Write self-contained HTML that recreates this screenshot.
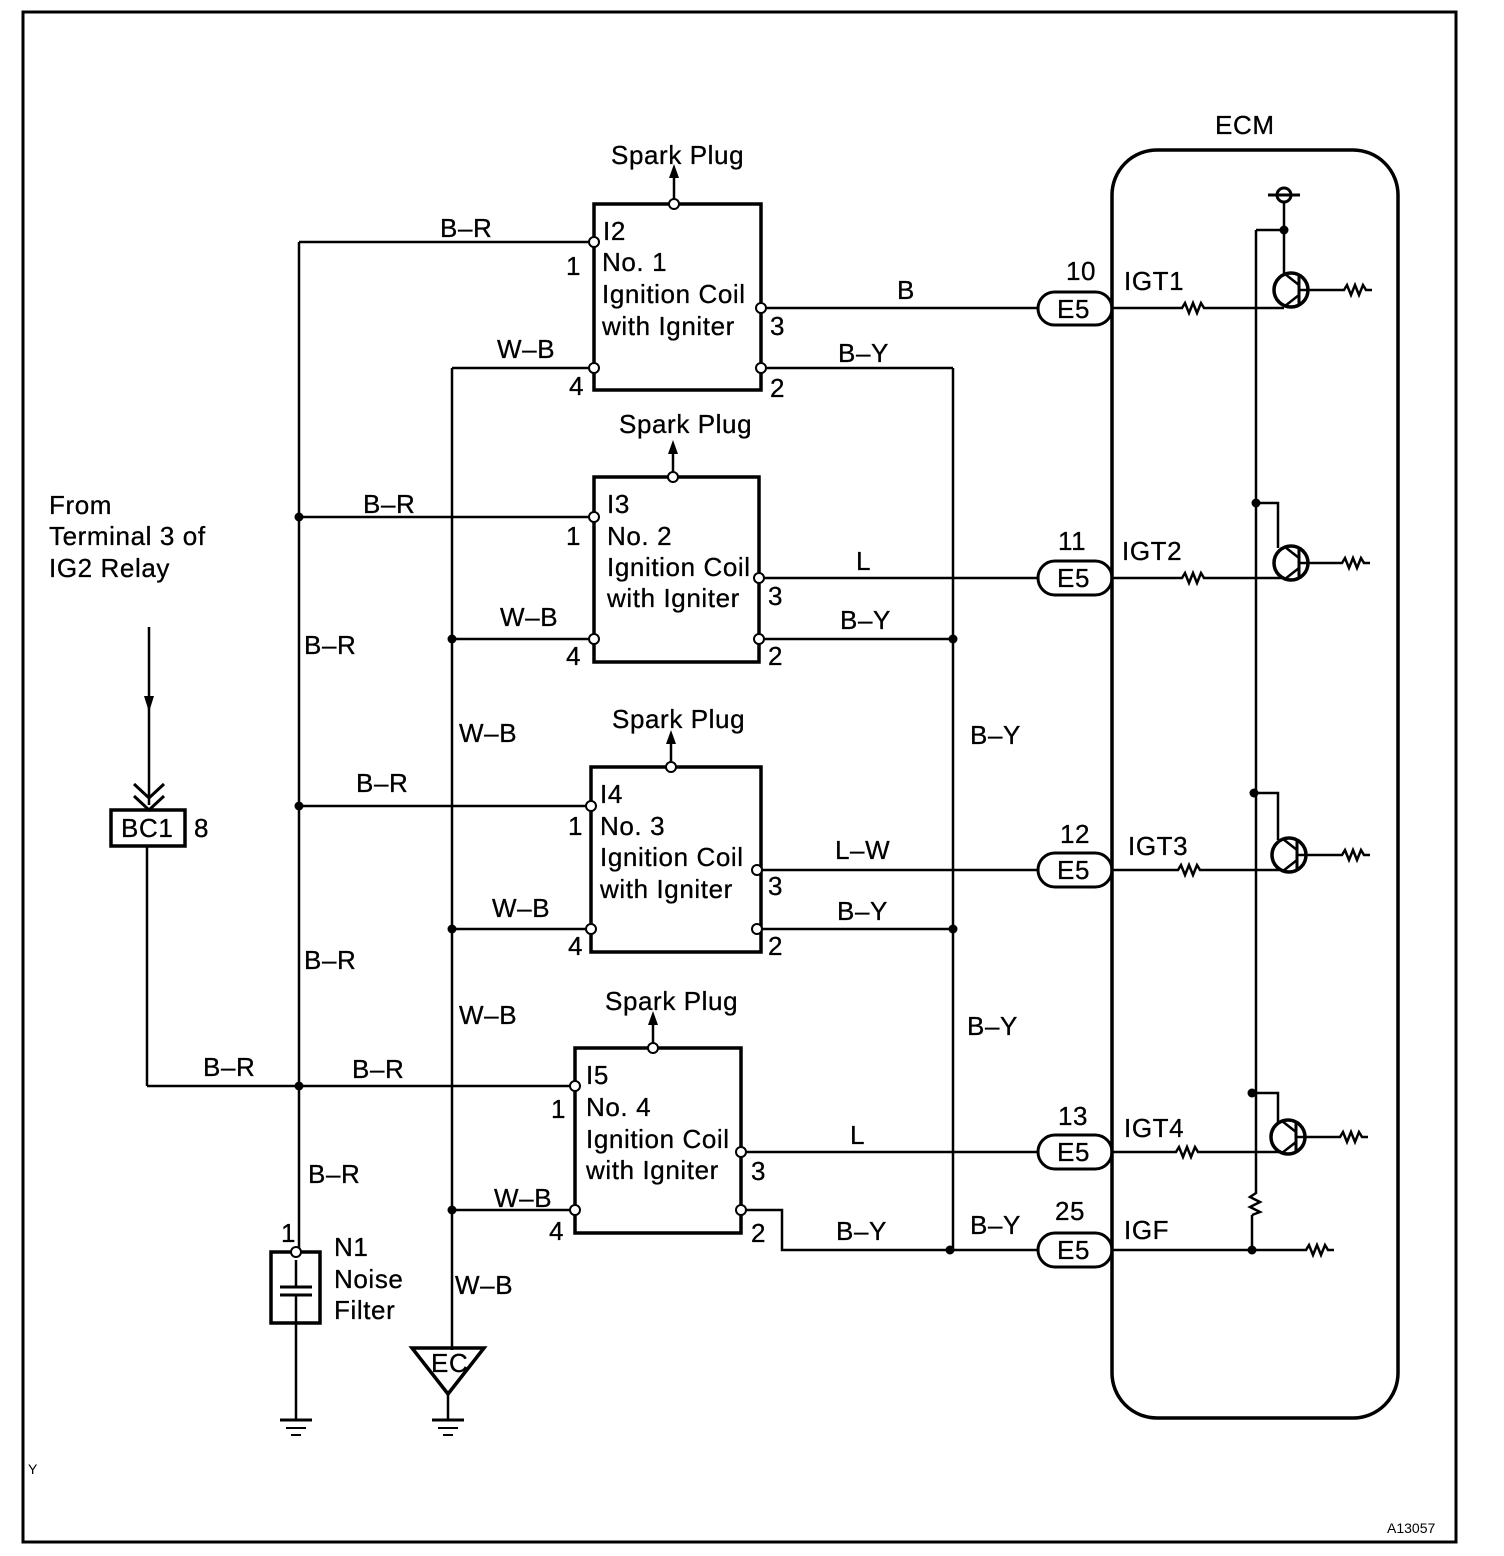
<!DOCTYPE html>
<html><head><meta charset="utf-8"><style>
html,body{margin:0;padding:0;background:#fff}
svg{display:block}
text{font-family:"Liberation Sans",Arial,sans-serif;font-size:26px;letter-spacing:0.6px;fill:#000;stroke:#000;stroke-width:0.3px}
</style></head><body>
<svg width="1504" height="1556" viewBox="0 0 1504 1556" xmlns="http://www.w3.org/2000/svg">
<defs>
<g id="gnd"><line x1="-16" y1="0" x2="16" y2="0" stroke="#000" stroke-width="3"/><line x1="-10" y1="8" x2="10" y2="8" stroke="#000" stroke-width="2"/><line x1="-5" y1="15" x2="5" y2="15" stroke="#000" stroke-width="2"/></g>
<g id="res"><polyline points="0,0 6,0 9,-5 13,5 17,-5 21,5 25,-5 28,0 34,0" fill="none" stroke="#000" stroke-width="2.5"/></g>
<g id="tr"><circle cx="0" cy="0" r="17" fill="none" stroke="#000" stroke-width="3.5"/><line x1="8" y1="-14" x2="8" y2="14" stroke="#000" stroke-width="3"/><line x1="8" y1="-5" x2="-6" y2="-16" stroke="#000" stroke-width="2.5"/><line x1="8" y1="5" x2="-6" y2="16" stroke="#000" stroke-width="2.5"/><line x1="8" y1="0" x2="20" y2="0" stroke="#000" stroke-width="2.5"/></g>
</defs>
<rect x="23" y="12" width="1433" height="1530" fill="none" stroke="#000" stroke-width="3"/>

<g stroke="#000" stroke-width="2.5" fill="none">
<line x1="299" y1="242" x2="299" y2="1252"/>
<line x1="299" y1="242" x2="594" y2="242"/>
<line x1="299" y1="517" x2="594" y2="517"/>
<line x1="299" y1="806" x2="591" y2="806"/>
<line x1="147" y1="1086" x2="575" y2="1086"/>
<line x1="147" y1="846" x2="147" y2="1086"/>
<line x1="452" y1="368" x2="452" y2="1350"/>
<line x1="452" y1="368" x2="594" y2="368"/>
<line x1="452" y1="639" x2="594" y2="639"/>
<line x1="452" y1="929" x2="591" y2="929"/>
<line x1="452" y1="1210" x2="575" y2="1210"/>
<line x1="953" y1="368" x2="953" y2="1250"/>
<line x1="761" y1="368" x2="953" y2="368"/>
<line x1="759" y1="639" x2="953" y2="639"/>
<line x1="757" y1="929" x2="953" y2="929"/>
<polyline points="741,1210 782,1210 782,1250 1038,1250"/>
<line x1="761" y1="308" x2="1038" y2="308"/>
<line x1="759" y1="578" x2="1038" y2="578"/>
<line x1="757" y1="870" x2="1038" y2="870"/>
<line x1="741" y1="1152" x2="1038" y2="1152"/>
<line x1="674" y1="204" x2="674" y2="172"/>
<line x1="673" y1="477" x2="673" y2="447"/>
<line x1="671" y1="767" x2="671" y2="737"/>
<line x1="653" y1="1048" x2="653" y2="1018"/>
<line x1="149" y1="627" x2="149" y2="805"/>
<line x1="296" y1="1323" x2="296" y2="1420"/>
<line x1="296" y1="1260" x2="296" y2="1287"/>
<line x1="296" y1="1295" x2="296" y2="1323"/>
<line x1="448" y1="1394" x2="448" y2="1420"/>
</g>
<g fill="#000">
<polygon points="674,164 669,178 679,178"/>
<polygon points="673,440 668,454 678,454"/>
<polygon points="671,730 666,744 676,744"/>
<polygon points="653,1011 648,1025 658,1025"/>
<polygon points="149,712 144,696 154,696"/>
<circle cx="299" cy="517" r="4.5"/><circle cx="299" cy="806" r="4.5"/><circle cx="299" cy="1086" r="4.5"/>
<circle cx="452" cy="639" r="4.5"/><circle cx="452" cy="929" r="4.5"/><circle cx="452" cy="1210" r="4.5"/>
<circle cx="953" cy="639" r="4.5"/><circle cx="953" cy="929" r="4.5"/><circle cx="950" cy="1250" r="4.5"/>
</g>
<polyline points="134,784 149,798 164,784" fill="none" stroke="#000" stroke-width="3"/>
<polyline points="134,796 149,810 164,796" fill="none" stroke="#000" stroke-width="3"/>

<g fill="none" stroke="#000" stroke-width="3.5">
<rect x="594" y="204" width="167" height="186"/>
<rect x="594" y="477" width="165" height="185"/>
<rect x="591" y="767" width="170" height="185"/>
<rect x="575" y="1048" width="166" height="185"/>
<rect x="271" y="1252" width="49" height="71"/>
<polygon points="412,1348 484,1348 448,1394"/>
<rect x="111" y="810" width="74" height="36"/>
</g>
<line x1="280" y1="1287" x2="312" y2="1287" stroke="#000" stroke-width="3"/>
<line x1="280" y1="1295" x2="312" y2="1295" stroke="#000" stroke-width="3"/>
<g fill="#fff" stroke="#000" stroke-width="2">
<circle cx="674" cy="204" r="5"/><circle cx="594" cy="242" r="5"/><circle cx="594" cy="368" r="5"/><circle cx="761" cy="308" r="5"/><circle cx="761" cy="368" r="5"/>
<circle cx="673" cy="477" r="5"/><circle cx="594" cy="517" r="5"/><circle cx="594" cy="639" r="5"/><circle cx="759" cy="578" r="5"/><circle cx="759" cy="639" r="5"/>
<circle cx="671" cy="767" r="5"/><circle cx="591" cy="806" r="5"/><circle cx="591" cy="929" r="5"/><circle cx="757" cy="870" r="5"/><circle cx="757" cy="929" r="5"/>
<circle cx="653" cy="1048" r="5"/><circle cx="575" cy="1086" r="5"/><circle cx="575" cy="1210" r="5"/><circle cx="741" cy="1152" r="5"/><circle cx="741" cy="1210" r="5"/>
<circle cx="296" cy="1252" r="5"/>
</g>
<use href="#gnd" x="296" y="1420"/>
<use href="#gnd" x="448" y="1420"/>

<g fill="#fff" stroke="#000" stroke-width="3">
<rect x="1038" y="292" width="74" height="33" rx="16.5"/>
<rect x="1038" y="561" width="74" height="34" rx="17"/>
<rect x="1038" y="853" width="74" height="34" rx="17"/>
<rect x="1038" y="1135" width="74" height="34" rx="17"/>
<rect x="1038" y="1233" width="74" height="34" rx="17"/>
</g>
<rect x="1112" y="150" width="286" height="1268" rx="45" fill="none" stroke="#000" stroke-width="3.5"/>
<g stroke="#000" stroke-width="2.5" fill="none">
<line x1="1112" y1="308" x2="1176" y2="308"/><line x1="1210" y1="308" x2="1284" y2="308"/>
<line x1="1112" y1="578" x2="1176" y2="578"/><line x1="1210" y1="578" x2="1284" y2="578"/>
<line x1="1112" y1="870" x2="1172" y2="870"/><line x1="1206" y1="870" x2="1282" y2="870"/>
<line x1="1112" y1="1152" x2="1170" y2="1152"/><line x1="1204" y1="1152" x2="1281" y2="1152"/>
<line x1="1112" y1="1250" x2="1300" y2="1250"/>
<line x1="1256" y1="230" x2="1256" y2="1190"/>
<line x1="1252" y1="1215" x2="1252" y2="1250"/>
<polyline points="1256,230 1284,230"/>
<line x1="1284" y1="203" x2="1284" y2="275"/>
<polyline points="1256,503 1278,503 1278,548"/>
<polyline points="1254,793 1278,793 1278,840"/>
<polyline points="1252,1093 1278,1093 1278,1122"/>
<polyline points="1256,1190 1256,1193 1250,1197 1260,1202 1250,1207 1260,1212 1252,1215"/>
<line x1="1268" y1="195" x2="1300" y2="195" stroke-width="3"/>
<circle cx="1284" cy="195" r="7" stroke-width="3"/>
</g>
<g fill="#000"><circle cx="1284" cy="230" r="4.5"/><circle cx="1256" cy="503" r="4.5"/><circle cx="1254" cy="793" r="4.5"/><circle cx="1252" cy="1093" r="4.5"/><circle cx="1252" cy="1250" r="4.5"/></g>
<use href="#res" x="1176" y="308"/><use href="#res" x="1176" y="578"/><use href="#res" x="1172" y="870"/><use href="#res" x="1170" y="1152"/>
<use href="#tr" x="1291" y="290"/><use href="#tr" x="1291" y="563"/><use href="#tr" x="1289" y="855"/><use href="#tr" x="1288" y="1137"/>
<g stroke="#000" stroke-width="2.5"><line x1="1311" y1="290" x2="1338" y2="290"/><line x1="1311" y1="563" x2="1336" y2="563"/><line x1="1309" y1="855" x2="1336" y2="855"/><line x1="1308" y1="1137" x2="1334" y2="1137"/></g>
<use href="#res" x="1338" y="290"/><use href="#res" x="1336" y="563"/><use href="#res" x="1336" y="855"/><use href="#res" x="1334" y="1137"/><use href="#res" x="1300" y="1250"/>

<text x="1215" y="134">ECM</text>
<text x="611" y="164">Spark Plug</text>
<text x="619" y="433">Spark Plug</text>
<text x="612" y="728">Spark Plug</text>
<text x="605" y="1010">Spark Plug</text>

<text x="603" y="240">I2</text><text x="602" y="271">No. 1</text><text x="602" y="303">Ignition Coil</text><text x="602" y="335">with Igniter</text>
<text x="607" y="513">I3</text><text x="607" y="545">No. 2</text><text x="607" y="576">Ignition Coil</text><text x="607" y="607">with Igniter</text>
<text x="600" y="803">I4</text><text x="600" y="835">No. 3</text><text x="600" y="866">Ignition Coil</text><text x="600" y="898">with Igniter</text>
<text x="586" y="1084">I5</text><text x="586" y="1116">No. 4</text><text x="586" y="1148">Ignition Coil</text><text x="586" y="1179">with Igniter</text>

<text x="566" y="275">1</text><text x="569" y="395">4</text><text x="770" y="335">3</text><text x="770" y="397">2</text>
<text x="566" y="545">1</text><text x="566" y="665">4</text><text x="768" y="605">3</text><text x="768" y="665">2</text>
<text x="568" y="835">1</text><text x="568" y="955">4</text><text x="768" y="895">3</text><text x="768" y="955">2</text>
<text x="551" y="1118">1</text><text x="549" y="1240">4</text><text x="751" y="1180">3</text><text x="751" y="1242">2</text>

<text x="440" y="237">B–R</text><text x="363" y="513">B–R</text><text x="356" y="792">B–R</text><text x="352" y="1078">B–R</text>
<text x="203" y="1076">B–R</text>
<text x="304" y="654">B–R</text><text x="304" y="969">B–R</text><text x="308" y="1183">B–R</text>
<text x="497" y="358">W–B</text><text x="500" y="626">W–B</text><text x="492" y="917">W–B</text><text x="494" y="1207">W–B</text>
<text x="459" y="742">W–B</text><text x="459" y="1024">W–B</text><text x="455" y="1294">W–B</text>
<text x="838" y="362">B–Y</text><text x="840" y="629">B–Y</text><text x="837" y="920">B–Y</text><text x="836" y="1240">B–Y</text>
<text x="970" y="744">B–Y</text><text x="967" y="1035">B–Y</text><text x="970" y="1234">B–Y</text>
<text x="897" y="299">B</text><text x="856" y="570">L</text><text x="835" y="859">L–W</text><text x="850" y="1144">L</text>

<text x="1066" y="280">10</text><text x="1057" y="318">E5</text>
<text x="1058" y="550">11</text><text x="1057" y="587">E5</text>
<text x="1060" y="843">12</text><text x="1057" y="879">E5</text>
<text x="1058" y="1125">13</text><text x="1057" y="1161">E5</text>
<text x="1055" y="1220">25</text><text x="1057" y="1259">E5</text>
<text x="1124" y="290">IGT1</text><text x="1122" y="560">IGT2</text><text x="1128" y="855">IGT3</text><text x="1124" y="1137">IGT4</text><text x="1124" y="1239">IGF</text>

<text x="49" y="514">From</text><text x="49" y="545">Terminal 3 of</text><text x="49" y="577">IG2 Relay</text>
<text x="121" y="837">BC1</text><text x="194" y="837">8</text>
<text x="281" y="1242">1</text>
<text x="334" y="1256">N1</text><text x="334" y="1288">Noise</text><text x="334" y="1319">Filter</text>
<text x="431" y="1372">EC</text>
<text x="28" y="1474" style="font-size:14px;stroke-width:0">Y</text>
<text x="1387" y="1533" style="font-size:14px;stroke-width:0;letter-spacing:0">A13057</text>
</svg>
</body></html>
